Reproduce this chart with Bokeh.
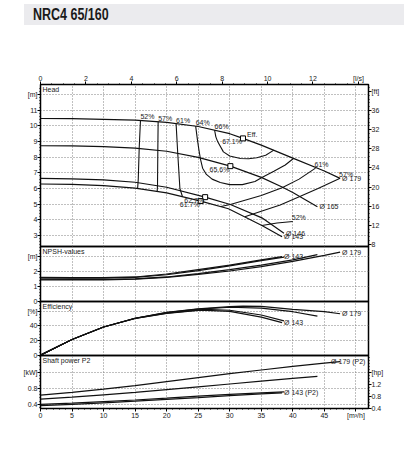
from bokeh.plotting import figure
from bokeh.models import Range1d, LinearAxis, FixedTicker, Div, CustomJSTickFormatter
from bokeh.layouts import column
from bokeh.embed import file_html
from bokeh.resources import INLINE
from bokeh.core.properties import value
import numpy as np

TITLE = "NRC4 65/160"

# ---------------- data (flow Q in m3/h) ----------------
# Head curves [m]
q_h179 = [0, 5, 10, 15, 20, 25, 30, 32.1, 35, 40, 45, 47.5]
h_179 = [10.47, 10.46, 10.42, 10.36, 10.22, 9.96, 9.5, 9.2, 8.77, 7.94, 7.12, 6.65]
q_h165 = [0, 5, 10, 15, 20, 25, 30.1, 35, 38.3, 40, 43.9]
h_165 = [8.73, 8.72, 8.68, 8.58, 8.38, 7.99, 7.43, 6.71, 6.1, 5.75, 4.84]
q_h146 = [0, 5, 10, 15, 20, 26.1, 30.1, 35.1, 38.6]
h_146 = [6.65, 6.62, 6.55, 6.4, 6.08, 5.45, 4.98, 4.13, 3.15]
q_h143 = [0, 5, 10, 15, 20, 25.4, 29.8, 35.1, 38.3]
h_143 = [6.29, 6.26, 6.18, 6.02, 5.72, 5.2, 4.71, 3.64, 2.92]

# Iso-efficiency lines in the head chart
iso52_q = [15.85, 15.65, 15.5, 15.4]
iso52_h = [10.36, 8.6, 6.6, 6.02]
iso57_q = [18.65, 18.6, 18.55, 18.5]
iso57_h = [10.27, 8.42, 6.2, 5.82]
iso61_q = [21.5, 21.75, 22.1, 22.5]
iso61_h = [10.12, 8.3, 6.0, 5.49]
iso64_q = [24.6, 24.85, 25.1, 25.35, 25.7, 26.3, 27.2, 28.5, 30.0, 32.0, 34.0, 35.1, 37.0, 38.8, 40.1]
iso64_h = [9.98, 9.2, 8.5, 7.9, 7.3, 6.9, 6.6, 6.38, 6.25, 6.25, 6.45, 6.71, 7.1, 7.5, 7.92]
iso66_q = [27.6, 27.8, 28.1, 29.0, 30.0, 31.7, 33.0, 34.3, 35.7, 37.0]
iso66_h = [9.73, 9.3, 8.98, 8.34, 8.08, 7.92, 7.9, 7.96, 8.12, 8.45]
iso61r_q = [28.6, 30.1, 32.0, 35.0, 38.3, 41.0, 43.6]
iso61r_h = [4.85, 4.98, 5.2, 5.55, 6.05, 6.6, 7.3]
iso57r_q = [32.4, 35.0, 38.0, 41.2, 44.0, 47.5]
iso57r_h = [4.2, 4.55, 4.95, 5.5, 6.0, 6.65]
iso52r_q = [35.1, 37.5, 40.0]
iso52r_h = [3.64, 3.8, 3.9]

# Best efficiency points
bep_q = [32.1, 30.1, 26.1, 25.4]
bep_h = [9.2, 7.43, 5.45, 5.2]
bep_txt = ["67.1%", "65.6%", "62.7%", "61.7%"]

# NPSH [m]
q_n179 = [0, 5, 10, 15, 20, 25, 30, 35, 40, 45, 47.5]
n_179 = [1.45, 1.45, 1.45, 1.5, 1.62, 1.82, 2.05, 2.35, 2.7, 3.1, 3.32]
q_n165 = [0, 5, 10, 15, 20, 25, 30, 35, 40, 43.9]
n_165 = [1.5, 1.49, 1.48, 1.52, 1.65, 1.88, 2.15, 2.45, 2.8, 3.15]
q_n146 = [0, 5, 10, 15, 20, 25, 30, 35, 38.6]
n_146 = [1.58, 1.57, 1.57, 1.62, 1.8, 2.08, 2.4, 2.75, 2.98]
q_n143 = [0, 5, 10, 15, 20, 25, 30, 35, 38.3]
n_143 = [1.62, 1.61, 1.6, 1.65, 1.85, 2.15, 2.45, 2.8, 3.02]

# Efficiency [%]
q_e179 = [0, 5, 10, 15, 20, 25, 30, 32.1, 35, 40, 45, 47.5]
e_179 = [0, 21.5, 38.5, 50.5, 58.5, 63.5, 66.6, 67.1, 66.8, 62.8, 59.5, 56.7]
q_e165 = [0, 5, 10, 15, 20, 25, 30.1, 35, 40, 43.9]
e_165 = [0, 21.5, 38.5, 50.5, 58.3, 63.0, 65.6, 64.3, 59.5, 53.5]
q_e146 = [0, 5, 10, 15, 20, 26.1, 30, 35, 38.6]
e_146 = [0, 21.5, 38.5, 50.3, 57.5, 62.7, 61.5, 55.0, 47.0]
q_e143 = [0, 5, 10, 15, 20, 25.4, 30, 35, 38.3]
e_143 = [0, 21.5, 38.5, 50.2, 57.2, 61.7, 60.0, 52.0, 44.5]

# Shaft power P2 [kW]
q_p179 = [0, 5, 10, 15, 20, 25, 30, 35, 40, 45, 47.5]
p_179 = [0.63, 0.7, 0.78, 0.87, 0.97, 1.07, 1.17, 1.26, 1.35, 1.43, 1.47]
q_p165 = [0, 5, 10, 15, 20, 25, 30, 35, 40, 43.9]
p_165 = [0.53, 0.58, 0.64, 0.70, 0.77, 0.84, 0.91, 0.98, 1.05, 1.1]
q_p146 = [0, 5, 10, 15, 20, 25, 30, 35, 38.6]
p_146 = [0.40, 0.43, 0.47, 0.51, 0.555, 0.605, 0.65, 0.69, 0.715]
q_p143 = [0, 5, 10, 15, 20, 25, 30, 35, 38.3]
p_143 = [0.37, 0.40, 0.44, 0.48, 0.525, 0.57, 0.62, 0.665, 0.69]

# Axis ticks (the last tick of each axis carries the unit)
q_ticks = [0, 5, 10, 15, 20, 25, 30, 35, 40, 45, 50]
ls_ticks = [0, 2, 4, 6, 8, 10, 12, 14]
head_ticks = [3, 4, 5, 6, 7, 8, 9, 10, 11, 12]
ft_ticks = [8, 12, 16, 20, 24, 28, 32, 36, 40]
npsh_ticks = [0, 1, 2, 3]
eff_ticks = [0, 20, 40, 60]
kw_ticks = [0.4, 0.8, 1.2]
hp_ticks = [0.4, 0.8, 1.2, 1.6]

# ---------------- styling ----------------
FONT = "Liberation Sans"
TXT = "#222222"
LC = "#111111"
X_END = 52.0
FS = "7px"


def style_axis(ax, ticks, minor, unit):
    ax.ticker = FixedTicker(ticks=ticks, minor_ticks=minor)
    ax.formatter = CustomJSTickFormatter(
        args=dict(at=ticks[-1], unit=unit),
        code="return Math.abs(tick - at) < 1e-6 ? unit : String(Math.round(tick * 100) / 100);")
    ax.major_label_text_font = FONT
    ax.major_label_text_font_size = FS
    ax.major_label_text_color = TXT
    ax.axis_line_color = "black"
    ax.major_tick_line_color = "black"
    ax.minor_tick_line_color = "black"
    ax.major_tick_in = 0
    ax.major_tick_out = 3
    ax.minor_tick_in = 0
    ax.minor_tick_out = 1
    ax.major_label_standoff = 0


def panel(height, yr, top, bottom, shift, ygrid):
    p = figure(width=400, height=height, x_range=Range1d(0, X_END), y_range=Range1d(*yr),
               x_axis_location=None, y_axis_location=None,
               output_backend="svg", toolbar_location=None,
               min_border_left=40, min_border_right=32,
               min_border_top=top, min_border_bottom=bottom)
    p.background_fill_alpha = 0
    p.border_fill_alpha = 0
    p.outline_line_color = "black"
    p.outline_line_width = 1.5
    p.xgrid.ticker = FixedTicker(ticks=q_ticks[1:])
    p.ygrid.ticker = FixedTicker(ticks=ygrid)
    for g in (p.xgrid, p.ygrid):
        g.grid_line_color = "#808080"
        g.grid_line_dash = "1 2"
        g.grid_line_width = 1
    if shift:
        p.margin = (shift, 0, 0, 0)
    return p


def txt(p, x, y, t, align="left", base="middle", dx=0, dy=0, size=FS):
    p.text(x=x, y=y, text=t, text_font=value(FONT), text_font_size=size,
           text_color=TXT, text_align=align, text_baseline=base,
           x_offset=dx, y_offset=dy)


def panel_title(p, t, ytop):
    txt(p, [0], [ytop], [t], base="top", dx=2, dy=1)


# ---------------- title ----------------
title = Div(text='<span style="display:inline-block;transform:scaleX(0.78);transform-origin:0 50%;">'
                 + TITLE + '</span>',
            width=380, height=21, margin=(4, 0, 0, 24),
            styles={"background-color": "#ebebee",
                    "font-family": "'Liberation Sans', Arial, sans-serif",
                    "font-weight": "bold", "font-size": "16px", "color": "#1a1a1a",
                    "padding-left": "9px", "line-height": "21px", "box-sizing": "border-box",
                    "white-space": "nowrap"})

# ---------------- head panel ----------------
H_RANGE = (2.3, 12.64)
ph = panel(227, H_RANGE, 59, 6, None, head_ticks)
ph.extra_x_ranges = {"ls": Range1d(0, X_END / 3.6)}
ph.extra_y_ranges = {"ft": Range1d(H_RANGE[0] * 3.2808, H_RANGE[1] * 3.2808)}

ax = LinearAxis()
style_axis(ax, head_ticks, list(np.arange(2.4, 12.6, 0.2)), "[m]")
ph.add_layout(ax, "left")
ax = LinearAxis(y_range_name="ft")
style_axis(ax, ft_ticks, list(np.arange(8, 41.4, 0.8)), "[ft]")
ph.add_layout(ax, "right")
ax = LinearAxis(x_range_name="ls")
style_axis(ax, ls_ticks, list(np.arange(0, 14.45, 0.5)), "[l/s]")
ph.add_layout(ax, "above")

for q, h in [(q_h179, h_179), (q_h165, h_165), (q_h146, h_146), (q_h143, h_143)]:
    ph.line(q, h, line_color=LC, line_width=1.2)
for q, h in [(iso52_q, iso52_h), (iso57_q, iso57_h), (iso61_q, iso61_h), (iso64_q, iso64_h),
             (iso66_q, iso66_h), (iso61r_q, iso61r_h), (iso57r_q, iso57r_h), (iso52r_q, iso52r_h)]:
    ph.line(q, h, line_color=LC, line_width=1.1)
ph.scatter(bep_q, bep_h, marker="square", size=5, fill_color="white", line_color="black", line_width=1)

# iso labels (top of left branches)
txt(ph, [iso52_q[0], iso57_q[0], iso61_q[0], iso64_q[0], iso66_q[0]],
    [iso52_h[0], iso57_h[0], iso61_h[0], iso64_h[0], iso66_h[0]],
    ["52%", "57%", "61%", "64%", "66%"], base="bottom")
# iso labels (ends of right branches)
txt(ph, [iso61r_q[-1], iso57r_q[-1], iso52r_q[-1]], [iso61r_h[-1], iso57r_h[-1], iso52r_h[-1]],
    ["61%", "57%", "52%"], base="bottom", dx=-1)
# BEP labels
txt(ph, [bep_q[0]], [bep_h[0]], ["Eff."], base="bottom", dx=4)
txt(ph, bep_q, bep_h, bep_txt, align="right", base="top", dx=-1)
# diameter labels
txt(ph, [q_h179[-1], q_h165[-1], q_h146[-1], q_h143[-1]], [h_179[-1], h_165[-1], h_146[-1], h_143[-1]],
    ["Ø 179", "Ø 165", "Ø 146", "Ø 143"], dx=2)
panel_title(ph, "Head", H_RANGE[1])

# ---------------- NPSH panel ----------------
N_RANGE = (0, 3.7)
pn = panel(67, N_RANGE, 6, 6, -12, npsh_ticks[1:])
ax = LinearAxis()
style_axis(ax, npsh_ticks, list(np.arange(0, 3.7, 0.2)), "[m]")
pn.add_layout(ax, "left")
for q, n in [(q_n179, n_179), (q_n165, n_165), (q_n146, n_146), (q_n143, n_143)]:
    pn.line(q, n, line_color=LC, line_width=1.2)
txt(pn, [q_n143[-1], q_n179[-1]], [n_143[-1], n_179[-1]], ["Ø 143", "Ø 179"], dx=2)
panel_title(pn, "NPSH-values", N_RANGE[1])

# ---------------- efficiency panel ----------------
E_RANGE = (-0.5, 73.5)
pe = panel(66, E_RANGE, 6, 6, -12, eff_ticks[1:])
ax = LinearAxis()
style_axis(ax, eff_ticks, list(np.arange(0, 73, 4)), "[%]")
pe.add_layout(ax, "left")
for q, e in [(q_e179, e_179), (q_e165, e_165), (q_e146, e_146), (q_e143, e_143)]:
    pe.line(q, e, line_color=LC, line_width=1.2)
txt(pe, [q_e143[-1], q_e179[-1]], [e_143[-1], e_179[-1]], ["Ø 143", "Ø 179"], dx=2)
panel_title(pe, "Efficiency", E_RANGE[1])

# ---------------- power panel ----------------
P_RANGE = (0.297, 1.622)
pp = panel(79, P_RANGE, 6, 20, -12, kw_ticks)
pp.extra_y_ranges = {"hp": Range1d(P_RANGE[0] * 1.34102, P_RANGE[1] * 1.34102)}
ax = LinearAxis()
style_axis(ax, kw_ticks, list(np.arange(0.32, 1.62, 0.08)), "[kW]")
pp.add_layout(ax, "left")
ax = LinearAxis(y_range_name="hp")
style_axis(ax, hp_ticks, list(np.arange(0.4, 2.2, 0.1)), "[hp]")
pp.add_layout(ax, "right")
ax = LinearAxis()
style_axis(ax, q_ticks, list(range(0, 52)), "[m³/h]")
pp.add_layout(ax, "below")
for q, w in [(q_p179, p_179), (q_p165, p_165), (q_p146, p_146), (q_p143, p_143)]:
    pp.line(q, w, line_color=LC, line_width=1.2)
txt(pp, [q_p143[-1]], [p_143[-1]], ["Ø 143 (P2)"], dx=2)
txt(pp, [q_p179[-1]], [p_179[-1]], ["Ø 179 (P2)"], dx=-9)
panel_title(pp, "Shaft power P2", P_RANGE[1])

layout = column(title, ph, pn, pe, pp, spacing=0)
open("out.html", "w").write(file_html(layout, INLINE))
